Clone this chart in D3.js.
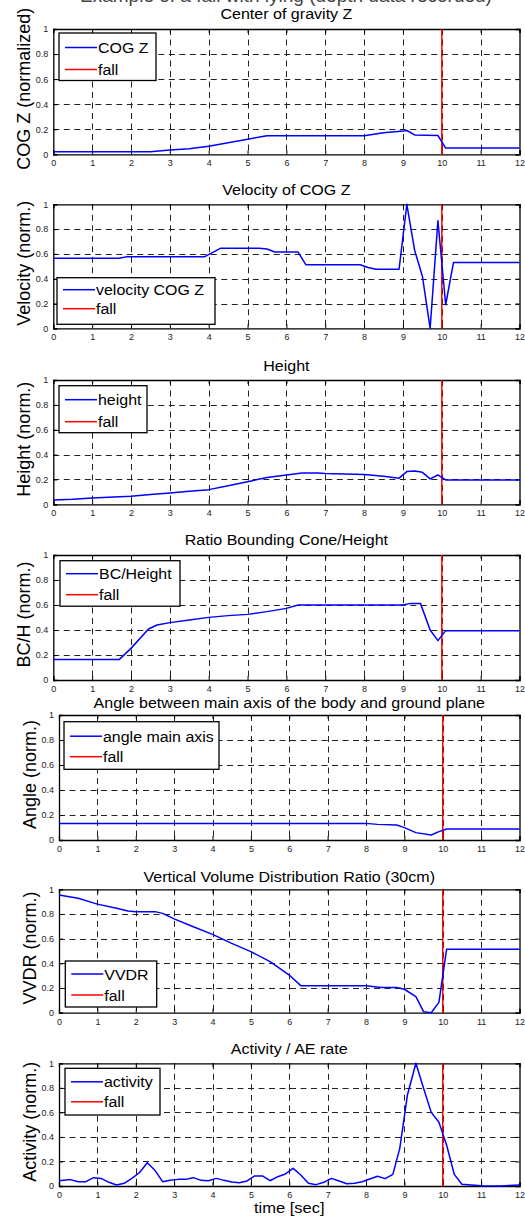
<!DOCTYPE html>
<html><head><meta charset="utf-8">
<script src="https://cdn.jsdelivr.net/npm/d3@7"></script>
<style>body{margin:0;background:#fff}svg{display:block}text{font-family:Arial,"Liberation Sans",sans-serif}</style>
</head><body><svg id="c" width="525" height="1221"></svg>
<script>
// ---------- data ----------
const xTicks = [0,1,2,3,4,5,6,7,8,9,10,11,12];
const yTicks = [0,0.2,0.4,0.6,0.8,1];
const yTickLabels = ["0","0.2","0.4","0.6","0.8","1"];
const fallTime = 10;
const pageTitle = "Example of a fall with lying (depth data recorded)";
const titles = ["Center of gravity Z","Velocity of COG Z","Height","Ratio Bounding Cone/Height",
  "Angle between main axis of the body and ground plane","Vertical Volume Distribution Ratio (30cm)","Activity / AE rate"];
const yLabels = ["COG Z (normalized)","Velocity (norm.)","Height (norm.)","BC/H (norm.)","Angle (norm.)","VVDR (norm.)","Activity (norm.)"];
const seriesNames = ["COG Z","velocity COG Z","height","BC/Height","angle main axis","VVDR","activity"];
const fallName = "fall";
const xLabel = "time [sec]";

const cogT = [0,2.5,3,3.5,4,4.5,5,5.5,8,8.5,9,9.1,9.3,9.9,10.1,12];
const cogV = [0.02,0.02,0.035,0.045,0.065,0.093,0.12,0.148,0.148,0.172,0.185,0.19,0.155,0.15,0.05,0.05];

const velT = [0,1.7,1.9,3.9,4.3,5.3,5.5,5.7,6.3,6.5,7.9,8.1,8.3,8.9,9.1,9.3,9.5,9.7,9.9,10.1,10.3,12];
const velV = [0.565,0.565,0.578,0.578,0.645,0.645,0.64,0.615,0.615,0.513,0.513,0.49,0.476,0.476,1.0,0.63,0.42,0.0,0.868,0.19,0.53,0.53];

const hT = [0,0.5,1,2,2.5,3,3.5,4,4.5,5,5.5,6,6.4,6.8,7,7.5,8,8.5,8.9,9.1,9.3,9.5,9.7,9.9,10.1,12];
const hV = [0.035,0.04,0.051,0.064,0.078,0.09,0.105,0.118,0.15,0.182,0.215,0.236,0.252,0.252,0.247,0.244,0.24,0.225,0.21,0.263,0.268,0.257,0.204,0.236,0.196,0.196];

const bcT = [0,1.7,2,2.45,2.67,3,3.5,4,4.5,5,5.5,6,6.3,9,9.2,9.45,9.7,9.9,10.1,12];
const bcV = [0.165,0.165,0.253,0.408,0.44,0.459,0.48,0.501,0.515,0.525,0.547,0.573,0.6,0.6,0.613,0.613,0.4,0.315,0.395,0.395];

const angT = [0,8,8.3,8.8,9,9.3,9.7,9.9,10.1,12];
const angV = [0.133,0.133,0.125,0.12,0.099,0.059,0.04,0.067,0.088,0.088];

const vvT = [0,0.5,1,1.5,1.8,2,2.5,2.7,3,3.5,4,4.5,5,5.5,6,6.3,8,8.4,8.8,9,9.3,9.5,9.7,9.9,10.1,12];
const vvV = [0.954,0.927,0.88,0.846,0.824,0.819,0.819,0.805,0.76,0.697,0.635,0.562,0.495,0.414,0.305,0.219,0.219,0.205,0.205,0.19,0.13,0.008,0.0,0.084,0.514,0.514];

const actT = [0,0.3,0.5,0.7,0.9,1.1,1.3,1.5,1.7,1.9,2.1,2.3,2.5,2.7,2.9,3.1,3.3,3.5,3.7,3.9,4.1,4.3,4.5,4.7,4.9,5.1,5.3,5.5,5.7,5.9,6.1,6.3,6.5,6.7,6.9,7.1,7.3,7.5,7.7,7.9,8.1,8.3,8.5,8.7,8.88,9.08,9.3,9.5,9.7,9.9,10.1,10.3,10.5,11,11.5,12];
const actV = [0.043,0.052,0.035,0.035,0.068,0.062,0.03,0.008,0.022,0.062,0.11,0.19,0.128,0.035,0.046,0.054,0.054,0.068,0.046,0.043,0.062,0.046,0.033,0.027,0.041,0.082,0.082,0.043,0.076,0.098,0.144,0.09,0.022,0.011,0.03,0.062,0.041,0.019,0.022,0.035,0.057,0.079,0.06,0.095,0.307,0.742,1.0,0.796,0.6,0.519,0.334,0.095,0.014,0.003,0.0,0.008];

const seriesT = [cogT,velT,hT,bcT,angT,vvT,actT];
const seriesV = [cogV,velV,hV,bcV,angV,vvV,actV];

// ---------- layout ----------
const layout = [
  {l:53.3,t:29,b:154.3,ty:19,lx:29.5,lg:[59,33,97,47.5,14.5,36.5]},
  {l:53.3,t:204.3,b:328.3,ty:194.5,lx:29.5,lg:[57,277.7,158,46.6,12,31]},
  {l:53.3,t:380,b:504.3,ty:371,lx:29.5,lg:[59,385.7,88,47,14,36]},
  {l:53.3,t:555,b:680,ty:544.5,lx:29.5,lg:[60,560.7,120,45.5,13,34]},
  {l:59,t:715,b:840,ty:707.5,lx:35.5,lg:[64,721.7,155,47.6,14.5,35]},
  {l:59,t:889.3,b:1012.7,ty:881.5,lx:35.5,lg:[65.3,961,91.4,46,13,34]},
  {l:59,t:1063.3,b:1186,ty:1053.5,lx:35.5,lg:[65,1068.3,95,46.7,13.5,33.5]}
];
const R = 519.5;
const SX = 1.1;

const svg = d3.select("#c");
svg.append("rect").attr("width",525).attr("height",1221).attr("fill","#fff");

function htext(g, x, y, str, size, anchor){
  return g.append("text").attr("transform",`translate(${x},${y}) scale(${SX},1)`)
    .attr("font-size",size).attr("text-anchor",anchor||"start").attr("fill","#000").text(str);
}

// page title (cut off at the top edge, as in the reference)
svg.append("text").attr("x",286).attr("y",1.5).attr("text-anchor","middle")
  .attr("font-family","'Liberation Serif','DejaVu Serif',serif").attr("font-size",19).attr("fill","#444").text(pageTitle);

layout.forEach((L,i)=>{
  const g = svg.append("g");
  const x = d3.scaleLinear().domain([0,12]).range([L.l,R]);
  const y = d3.scaleLinear().domain([0,1]).range([L.b,L.t]);
  // grid
  const grid = g.append("g").attr("stroke","#222").attr("stroke-width",1).attr("stroke-dasharray","6,4.5");
  xTicks.slice(1,-1).forEach(v=>grid.append("line").attr("x1",Math.round(x(v))+0.5).attr("x2",Math.round(x(v))+0.5).attr("y1",L.t).attr("y2",L.b));
  yTicks.slice(1,-1).forEach(v=>grid.append("line").attr("y1",Math.round(y(v))+0.5).attr("y2",Math.round(y(v))+0.5).attr("x1",L.l).attr("x2",R));
  // axes via d3
  const bottom = g.append("g").attr("transform",`translate(0,${L.b})`)
    .call(d3.axisBottom(x).tickValues(xTicks).tickSize(-4).tickPadding(5.5).tickFormat(d3.format("d")));
  const top = g.append("g").attr("transform",`translate(0,${L.t})`)
    .call(d3.axisTop(x).tickValues(xTicks).tickSize(-4).tickFormat(""));
  const left = g.append("g").attr("transform",`translate(${L.l},0)`)
    .call(d3.axisLeft(y).tickValues(yTicks).tickSize(-4).tickPadding(5).tickFormat((d,k)=>yTickLabels[k]));
  const right = g.append("g").attr("transform",`translate(${R},0)`)
    .call(d3.axisRight(y).tickValues(yTicks).tickSize(-4).tickFormat(""));
  [bottom,top,left,right].forEach(a=>{
    a.select(".domain").attr("stroke","#000").attr("stroke-width",1.3);
    a.selectAll(".tick line").attr("stroke","#000");
    a.selectAll("text").attr("font-size",9).attr("fill","#222").attr("font-family","Arial,'Liberation Sans',sans-serif");
  });
  // fall line
  g.append("line").attr("x1",x(fallTime)).attr("x2",x(fallTime)).attr("y1",L.t).attr("y2",L.b)
    .attr("stroke","#ff0000").attr("stroke-width",1.5);
  // series
  const pts = seriesT[i].map((t,k)=>[t,seriesV[i][k]]);
  g.append("path").datum(pts).attr("fill","none").attr("stroke","#0000ff").attr("stroke-width",1.5)
    .attr("stroke-linejoin","round")
    .attr("d",d3.line().x(d=>x(d[0])).y(d=>y(d[1])));
  // title
  htext(g,(L.l+R)/2,L.ty,titles[i],14.6,"middle");
  // y label
  g.append("text").attr("transform",`translate(${L.lx},${(L.t+L.b)/2 - 3}) rotate(-90)`)
    .attr("text-anchor","middle").attr("font-size",18).attr("fill","#000").text(yLabels[i]);
  // legend
  const [bx,by,bw,bh,r1,r2] = L.lg;
  const lg = g.append("g");
  lg.append("rect").attr("x",bx).attr("y",by).attr("width",bw).attr("height",bh)
    .attr("fill","#fff").attr("stroke","#000").attr("stroke-width",1.3);
  lg.append("line").attr("x1",bx+6).attr("x2",bx+38).attr("y1",by+r1).attr("y2",by+r1).attr("stroke","#0000ff").attr("stroke-width",1.5);
  lg.append("line").attr("x1",bx+6).attr("x2",bx+38).attr("y1",by+r2).attr("y2",by+r2).attr("stroke","#ff0000").attr("stroke-width",1.5);
  htext(lg,bx+39,by+r1+5.5,seriesNames[i],14.5,"start");
  htext(lg,bx+39,by+r2+5.5,fallName,14.5,"start");
  if(i===6){
    htext(g,(L.l+R)/2,1213,xLabel,15,"middle");
  }
});
</script></body></html>
